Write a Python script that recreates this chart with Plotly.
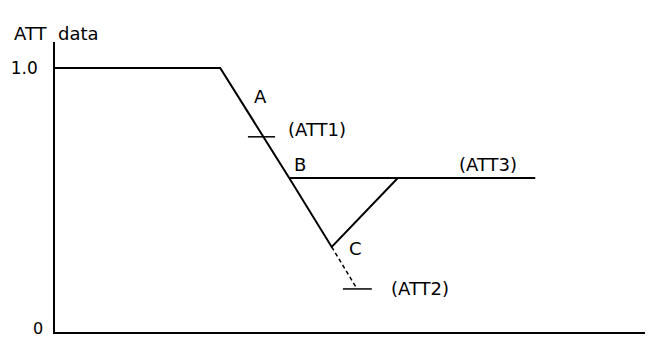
import plotly.graph_objects as go

# main ATT curve: flat at 1.0, falls through A and B down to C, then rises back to ATT3 level
curve_x = [0.0, 2.80, 3.97, 4.69, 5.81, 8.14]
curve_y = [1.0, 1.0, 0.583, 0.322, 0.583, 0.583]

# B -> junction is drawn as part of ATT3 level
att3_x = [3.97, 5.81]
att3_y = [0.583, 0.583]

# dashed continuation below C down to ATT2
dash_x = [4.69, 5.12]
dash_y = [0.322, 0.163]

# short level marks
att1_x = [3.27, 3.73]
att1_y = [0.739, 0.739]
att2_x = [4.88, 5.37]
att2_y = [0.163, 0.163]

# labels
label_text = ['A', 'B', 'C', '(ATT1)', '(ATT3)', '(ATT2)']
label_x = [3.49, 4.15, 5.10, 4.44, 7.34, 6.19]
label_y = [0.890, 0.636, 0.318, 0.765, 0.636, 0.163]

tick_vals = [1.0]
tick_text = ['1.0']
origin_label = '0'

fig = go.Figure()
solid = dict(color='black', width=2)
fig.add_trace(go.Scatter(x=curve_x, y=curve_y, mode='lines', line=solid))
fig.add_trace(go.Scatter(x=att3_x, y=att3_y, mode='lines', line=solid))
fig.add_trace(go.Scatter(x=dash_x, y=dash_y, mode='lines',
                         line=dict(color='black', width=1.5, dash='4px,3px')))
fig.add_trace(go.Scatter(x=att1_x, y=att1_y, mode='lines', line=dict(color='black', width=1.5)))
fig.add_trace(go.Scatter(x=att2_x, y=att2_y, mode='lines', line=dict(color='black', width=1.5)))

for t, x, y in zip(label_text, label_x, label_y):
    fig.add_annotation(x=x, y=y, text=t, showarrow=False,
                       font=dict(size=18, color='black'))

fig.add_annotation(xref='paper', yref='paper', x=-0.073, y=1.072, xanchor='left',
                   text='ATT  data', showarrow=False, font=dict(size=18, color='black'))

# origin label sits next to the corner; keep it inside the page
fig.add_annotation(xref='paper', yref='y', x=-0.017, y=0, xanchor='right', yanchor='middle',
                   yshift=4, text=origin_label, showarrow=False,
                   font=dict(size=16, color='black'))

fig.update_xaxes(range=[0, 10], showline=True, linecolor='black', linewidth=1.5,
                 showgrid=False, zeroline=False, showticklabels=False, ticks='',
                 automargin=False)
fig.update_yaxes(range=[0, 1.098], showline=True, linecolor='black', linewidth=1.5,
                 showgrid=False, zeroline=False, tickvals=tick_vals, ticktext=tick_text,
                 ticks='', ticklabelstandoff=12,
                 tickfont=dict(size=17, color='black'), automargin=False)

fig.update_layout(width=661, height=338, showlegend=False,
                  paper_bgcolor='white', plot_bgcolor='white',
                  font=dict(family='DejaVu Sans, sans-serif'),
                  margin=dict(l=55, r=16, t=42, b=6))

# drop the page's default body margin so the figure sits at the window's corner
fig.write_html("out.html", config={'displayModeBar': False},
               post_script="document.body.style.margin='0';")
